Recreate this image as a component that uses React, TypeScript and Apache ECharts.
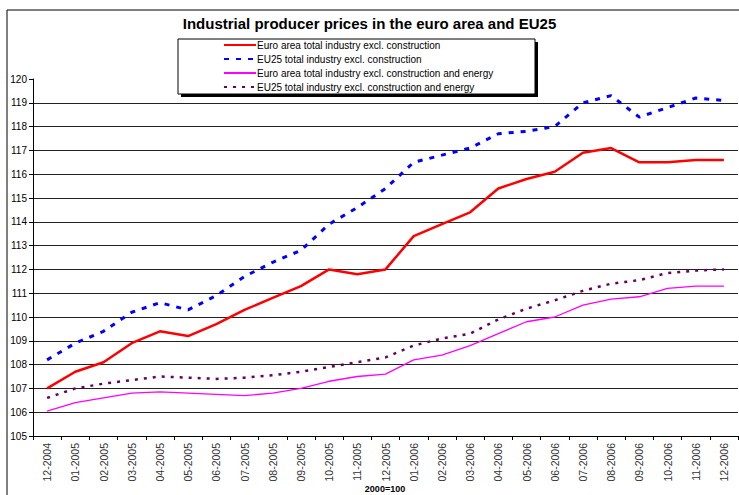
import React, { useEffect, useRef } from "react";
import * as echarts from "echarts";

const categories = [
  "12-2004", "01-2005", "02-2005", "03-2005", "04-2005", "05-2005", "06-2005",
  "07-2005", "08-2005", "09-2005", "10-2005", "11-2005", "12-2005", "01-2006",
  "02-2006", "03-2006", "04-2006", "05-2006", "06-2006", "07-2006", "08-2006",
  "09-2006", "10-2006", "11-2006", "12-2006",
];

const euroTotal = [107.0, 107.7, 108.1, 108.9, 109.4, 109.2, 109.7, 110.3, 110.8, 111.3, 112.0, 111.8, 112.0, 113.4, 113.9, 114.4, 115.4, 115.8, 116.1, 116.9, 117.1, 116.5, 116.5, 116.6, 116.6];
const eu25Total = [108.2, 108.9, 109.4, 110.2, 110.6, 110.3, 110.9, 111.7, 112.3, 112.8, 113.9, 114.6, 115.4, 116.5, 116.8, 117.1, 117.7, 117.8, 118.0, 119.0, 119.3, 118.4, 118.8, 119.2, 119.1];
const euroExEnergy = [106.05, 106.4, 106.6, 106.8, 106.85, 106.8, 106.75, 106.7, 106.8, 107.0, 107.3, 107.5, 107.6, 108.2, 108.4, 108.8, 109.3, 109.8, 110.0, 110.5, 110.75, 110.85, 111.2, 111.3, 111.3];
const eu25ExEnergy = [106.6, 107.0, 107.2, 107.35, 107.5, 107.45, 107.4, 107.45, 107.55, 107.7, 107.9, 108.1, 108.3, 108.8, 109.1, 109.3, 109.9, 110.35, 110.7, 111.1, 111.4, 111.55, 111.85, 111.95, 112.0];

const seriesNames = [
  "Euro area total industry excl. construction",
  "EU25 total industry excl. construction",
  "Euro area total industry excl. construction and energy",
  "EU25 total industry excl. construction and energy",
];

const xAxisName = "2000=100";

const FONT = "'Liberation Sans', Arial, sans-serif";

export default function App() {
  const ref = useRef<HTMLDivElement>(null);

  useEffect(() => {
    if (!ref.current) return;
    const chart = echarts.init(ref.current, undefined, { renderer: "svg" });
    chart.setOption({
      animation: false,
      backgroundColor: "#ffffff",
      title: {
        text: "Industrial producer prices in the euro area and EU25",
        left: "center",
        top: 11,
        textStyle: { fontFamily: FONT, fontSize: 15, fontWeight: "bold", color: "#000" },
      },
      graphic: [
        {
          type: "rect",
          z: 0,
          shape: { x: 7, y: 10, width: 800, height: 600 },
          style: { fill: "none", stroke: "#000", lineWidth: 1 },
          silent: true,
        },
        {
          type: "rect",
          z: 100,
          shape: { x: 181, y: 42, width: 357, height: 55 },
          style: { fill: "#000" },
          silent: true,
        },
        {
          type: "rect",
          z: 101,
          shape: { x: 178, y: 39, width: 357, height: 55 },
          style: { fill: "#fff", stroke: "#000", lineWidth: 1 },
          silent: true,
        },
        {
          type: "text",
          z: 10,
          x: 385,
          y: 489,
          style: {
            text: xAxisName,
            fontFamily: FONT,
            fontSize: 9,
            fontWeight: "bold",
            fill: "#000",
            align: "center",
            verticalAlign: "middle",
          },
          silent: true,
        },
      ],
      legend: {
        z: 110,
        orient: "vertical",
        left: 223,
        top: 40,
        padding: 0,
        itemGap: 4,
        itemWidth: 32,
        itemHeight: 10,
        data: seriesNames,
        itemStyle: { opacity: 0 },
        textStyle: { fontFamily: FONT, fontSize: 10, color: "#000", padding: [0, 0, 0, -4] },
      },
      grid: { left: 33, right: 1, top: 79, bottom: 59, outerBoundsMode: "none", containLabel: false },
      xAxis: {
        type: "category",
        data: categories,
        boundaryGap: true,
        axisLine: { lineStyle: { color: "#000", width: 1 } },
        axisTick: { show: true, length: 4, lineStyle: { color: "#000" } },
        axisLabel: { rotate: 90, interval: 0, fontFamily: FONT, fontSize: 10.5, color: "#333", margin: 7 },
        splitLine: { show: false },
      },
      yAxis: {
        type: "value",
        min: 105,
        max: 120,
        interval: 1,
        axisLine: { show: true, lineStyle: { color: "#000", width: 1 } },
        axisTick: { show: true, length: 4, lineStyle: { color: "#000" } },
        axisLabel: { fontFamily: FONT, fontSize: 10, color: "#000", margin: 6 },
        splitLine: { show: true, showMaxLine: false, lineStyle: { color: "#222", width: 1 } },
      },
      series: [
        {
          name: seriesNames[0],
          type: "line",
          data: euroTotal,
          symbol: "none",
          color: "#ff0000",
          lineStyle: { color: "#ff0000", width: 2.5 },
          z: 5,
        },
        {
          name: seriesNames[1],
          type: "line",
          data: eu25Total,
          symbol: "none",
          color: "#0000ff",
          lineStyle: { color: "#0000ff", width: 3, type: [5, 7] },
          z: 4,
        },
        {
          name: seriesNames[2],
          type: "line",
          data: euroExEnergy,
          symbol: "none",
          color: "#ff00ff",
          lineStyle: { color: "#ff00ff", width: 1.3 },
          z: 3,
        },
        {
          name: seriesNames[3],
          type: "line",
          data: eu25ExEnergy,
          symbol: "none",
          color: "#660066",
          lineStyle: { color: "#660066", width: 2.5, type: [3, 6] },
          z: 3,
        },
      ],
    });
    return () => chart.dispose();
  }, []);

  return (
    <div
      ref={ref}
      style={{ position: "fixed", left: 0, top: 0, width: 739, height: 495 }}
    />
  );
}
